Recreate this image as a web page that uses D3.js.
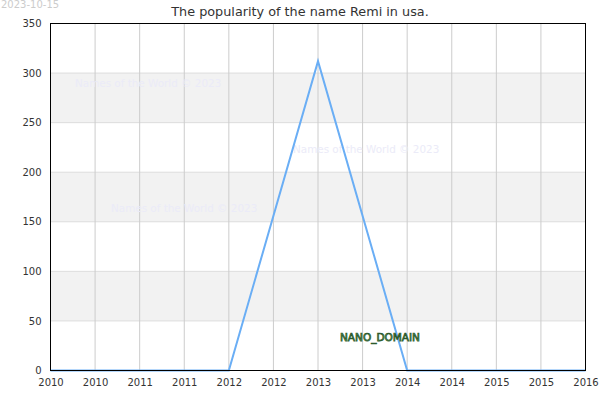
<!DOCTYPE html>
<html><head><meta charset="utf-8">
<script src="https://cdn.jsdelivr.net/npm/d3@7"></script>
<style>body{margin:0;background:#fff;}svg{display:block;font-family:"DejaVu Sans",sans-serif;}</style>
</head><body>
<script>
const years = [2010, 2011, 2012, 2013, 2014, 2015, 2016];
const counts = [0, 0, 0, 312, 0, 0, 0];
const xTicks = [2010, 2010.5, 2011, 2011.5, 2012, 2012.5, 2013, 2013.5, 2014, 2014.5, 2015, 2015.5, 2016];
const yTicks = [0, 50, 100, 150, 200, 250, 300, 350];
const bands = [[50, 100], [150, 200], [250, 300]];
const watermarks = [[75, 87], [293, 153], [111, 212]];

const W = 600, H = 400;
const m = {l: 50.5, r: 585.5, t: 23.5, b: 370.5};
const svg = d3.select("body").append("svg").attr("width", W).attr("height", H);
const x = d3.scaleLinear().domain([2010, 2016]).range([m.l, m.r]);
const y = d3.scaleLinear().domain([0, 350]).range([m.b, m.t]);

svg.append("g").selectAll("rect").data(bands).join("rect")
  .attr("x", m.l).attr("width", m.r - m.l)
  .attr("y", d => y(d[1])).attr("height", d => y(d[0]) - y(d[1]))
  .attr("fill", "#f2f2f2");

svg.append("g").selectAll("line").data(yTicks).join("line")
  .attr("x1", m.l).attr("x2", m.r).attr("y1", d => y(d)).attr("y2", d => y(d))
  .attr("stroke", "#dddddd").attr("stroke-width", 1);
svg.append("g").selectAll("line").data(xTicks).join("line")
  .attr("x1", d => x(d)).attr("x2", d => x(d)).attr("y1", m.t).attr("y2", m.b)
  .attr("stroke", "#cccccc").attr("stroke-width", 1);

svg.append("g").selectAll("text").data(watermarks).join("text")
  .attr("x", d => d[0]).attr("y", d => d[1])
  .attr("font-size", 10.4).attr("fill", "#ebebf8")
  .text("Names of the World © 2023");

const line = d3.line().x((d, i) => x(years[i])).y(d => y(d));
svg.append("path").datum(counts).attr("d", line)
  .attr("fill", "none").attr("stroke", "#6aaef5").attr("stroke-width", 2);

svg.append("rect").attr("x", m.l).attr("y", m.t).attr("width", m.r - m.l).attr("height", m.b - m.t)
  .attr("fill", "none").attr("stroke", "#000").attr("stroke-width", 1);

const xAxis = d3.axisBottom(x).tickValues(xTicks).tickSize(0).tickPadding(8).tickFormat(d => String(Math.floor(d)));
const gx = svg.append("g").attr("transform", `translate(0,${m.b})`).call(xAxis);
gx.select(".domain").remove();
gx.selectAll("text").attr("font-size", 10).attr("fill", "#333").attr("font-family", "DejaVu Sans");

const yAxis = d3.axisLeft(y).tickValues(yTicks).tickSize(0).tickPadding(9);
const gy = svg.append("g").attr("transform", `translate(${m.l},0)`).call(yAxis);
gy.select(".domain").remove();
gy.selectAll("text").attr("font-size", 10).attr("fill", "#333").attr("font-family", "DejaVu Sans");

svg.append("text").attr("x", 300).attr("y", 16).attr("text-anchor", "middle")
  .attr("font-size", 12.8).attr("fill", "#333").text("The popularity of the name Remi in usa.");
svg.append("text").attr("x", 1).attr("y", 8).attr("font-size", 10).attr("fill", "#cccccc").text("2023-10-15");

svg.append("text").attr("x", 340).attr("y", 341).attr("font-size", 10.5)
  .attr("fill", "#6fae6f").attr("stroke", "#2d5a2d").attr("stroke-width", 0.75)
  .text("NANO_DOMAIN");
</script>
</body></html>
